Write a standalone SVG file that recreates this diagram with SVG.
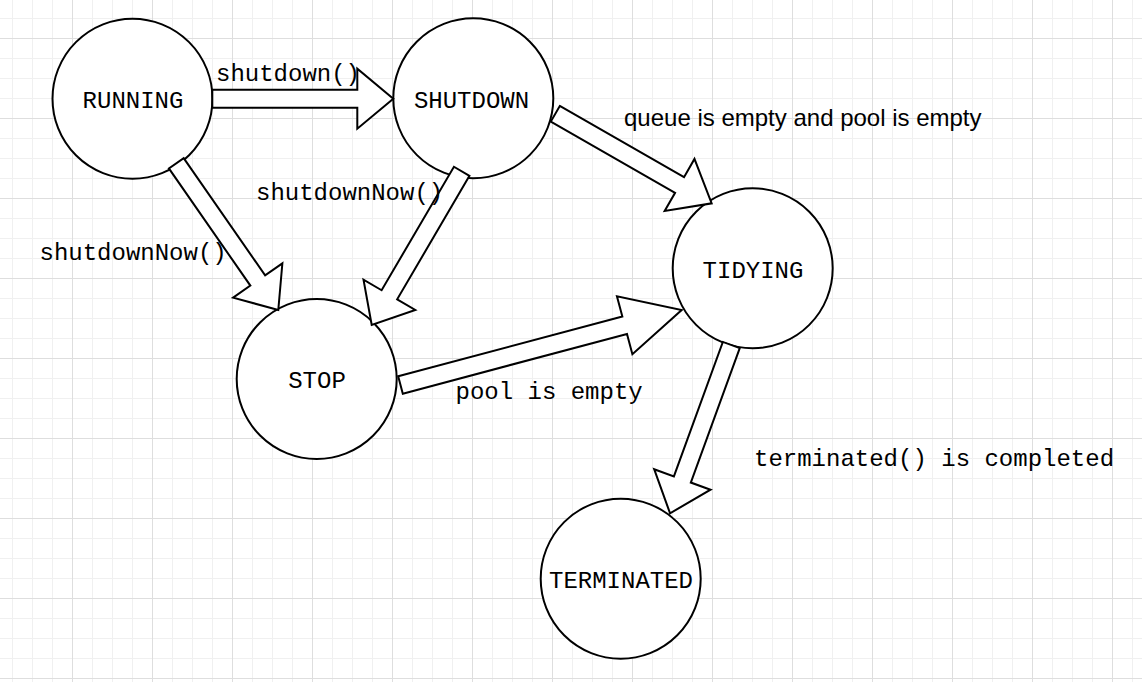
<svg xmlns="http://www.w3.org/2000/svg" width="1142" height="682" viewBox="0 0 1142 682">
  <defs>
    <pattern id="grid" patternUnits="userSpaceOnUse" x="72" y="38" width="80" height="80">
      <path d="M20.5,0V80M40.5,0V80M60.5,0V80M0,20.5H80M0,40.5H80M0,60.5H80" stroke="#f0f0f0" stroke-width="1" fill="none"/>
      <path d="M0.5,0V80M0,0.5H80" stroke="#dedede" stroke-width="1" fill="none"/>
    </pattern>
    <style>
      .node { fill: #ffffff; stroke: #000000; stroke-width: 2; }
      .arrow { fill: #ffffff; stroke: #000000; stroke-width: 2; stroke-linejoin: miter; }
      .nlabel { font-family: "Liberation Mono", "Courier New", monospace; font-size: 24px; fill: #000000; text-anchor: middle; }
      .elabel { font-family: "Liberation Mono", "Courier New", monospace; font-size: 24px; fill: #000000; }
      .slabel { font-family: "Liberation Sans", Arial, sans-serif; font-size: 24px; fill: #000000; }
    </style>
  </defs>
  <rect x="0" y="0" width="1142" height="682" fill="#ffffff"/>
  <rect x="0" y="0" width="1142" height="682" fill="url(#grid)"/>

  <g id="node-running">
    <circle class="node" cx="132.5" cy="98.7" r="80"/>
    <text class="nlabel" x="133" y="108.3">RUNNING</text>
  </g>
  <g id="node-shutdown">
    <circle class="node" cx="473.3" cy="98.3" r="80"/>
    <text class="nlabel" x="471.5" y="107.7">SHUTDOWN</text>
  </g>
  <g id="node-stop">
    <circle class="node" cx="316.7" cy="379" r="80"/>
    <text class="nlabel" x="317" y="388.3">STOP</text>
  </g>
  <g id="node-tidying">
    <circle class="node" cx="752.7" cy="268.3" r="80"/>
    <text class="nlabel" x="753" y="278.3">TIDYING</text>
  </g>
  <g id="node-terminated">
    <circle class="node" cx="620.7" cy="578.7" r="80"/>
    <text class="nlabel" x="621" y="588.3">TERMINATED</text>
  </g>

  <g id="connectors">
    <path class="arrow" transform="translate(212.3,98.7) rotate(0)" d="M0,-9H145V-30L181,0L145,30V9H0Z"/>
    <path class="arrow" transform="translate(555.3,113.8) rotate(29.8)" d="M0,-9H143.2V-30L180.2,0L143.2,30V9H0Z"/>
    <path class="arrow" transform="translate(176.3,163.3) rotate(55.2)" d="M0,-9H142.7V-30L178.7,0L142.7,30V9H0Z"/>
    <path class="arrow" transform="translate(461.7,171.3) rotate(120.35)" d="M0,-9H143.1V-30L178.1,0L143.1,30V9H0Z"/>
    <path class="arrow" transform="translate(400.5,385) rotate(-14.93)" d="M0,-9H232V-30L291,0L232,30V9H0Z"/>
    <path class="arrow" transform="translate(731.3,345) rotate(110)" d="M0,-9H143.1V-30L179.1,0L143.1,30V9H0Z"/>
    <text class="elabel" x="216" y="80.7">shutdown()</text>
    <text class="elabel" x="39.5" y="260">shutdownNow()</text>
    <text class="elabel" x="256" y="200">shutdownNow()</text>
    <text class="slabel" x="624" y="125.5">queue is empty and pool is empty</text>
    <text class="elabel" x="455.5" y="399.3">pool is empty</text>
    <text class="elabel" x="754" y="465.5">terminated() is completed</text>
  </g>
</svg>
